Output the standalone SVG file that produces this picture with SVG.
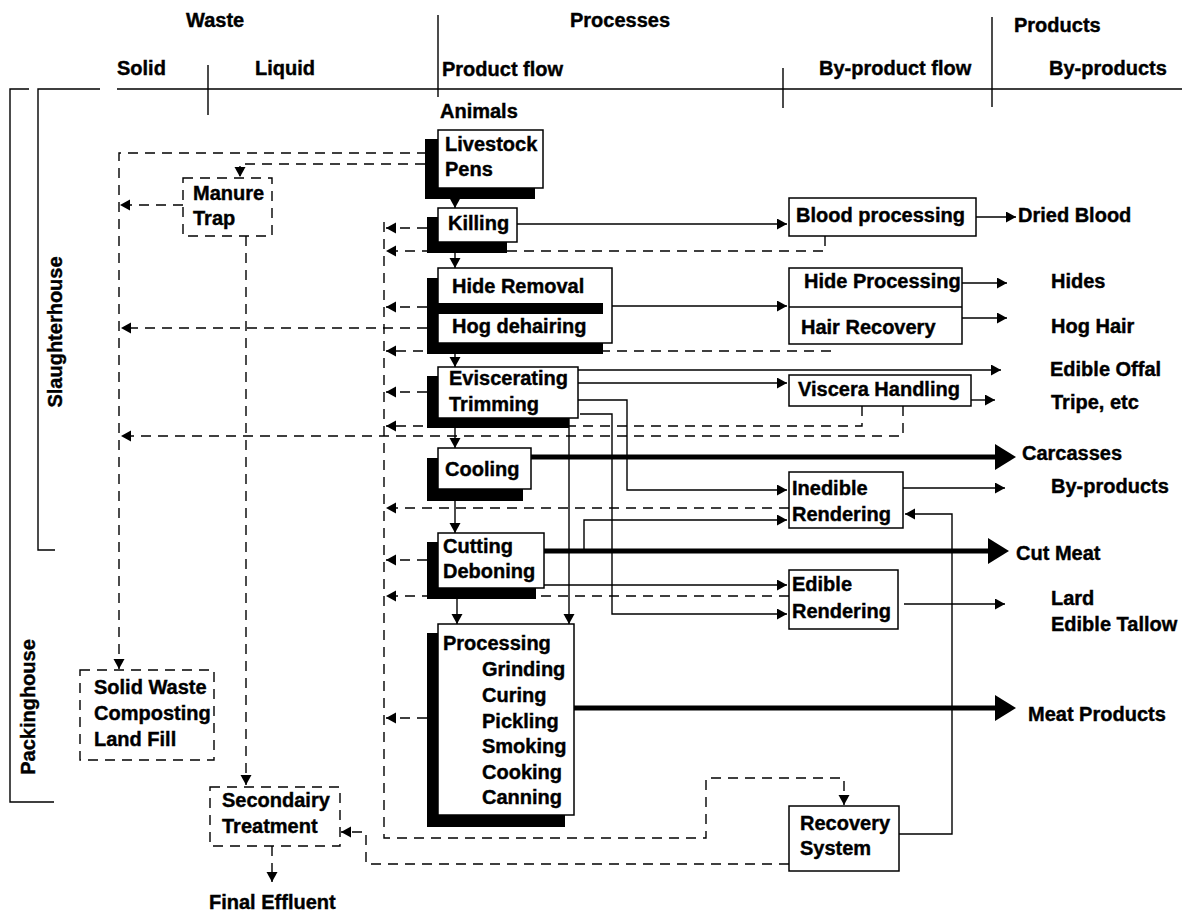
<svg xmlns="http://www.w3.org/2000/svg" width="1182" height="911" viewBox="0 0 1182 911">
<style>
.t{font-family:"Liberation Sans",Arial,sans-serif;font-weight:bold;font-size:20px;fill:#000;stroke:#000;stroke-width:0.4}
.ln{fill:none;stroke:#000;stroke-width:1.4}
.ds{fill:none;stroke:#000;stroke-width:1.4;stroke-dasharray:10 7}
.tk{fill:none;stroke:#000;stroke-width:5}
.bx{fill:#fff;stroke:#000;stroke-width:1.5}
.db{fill:#fff;stroke:#000;stroke-width:1.4;stroke-dasharray:10 7}
.sh{fill:#000}
</style>
<defs>
<marker id="a" markerUnits="userSpaceOnUse" markerWidth="12" markerHeight="12" refX="10" refY="5.5" orient="auto"><path d="M0,0 L10,5.5 L0,11 z" fill="#000" stroke="none"/></marker>
<marker id="at" markerUnits="userSpaceOnUse" markerWidth="24" markerHeight="28" refX="5" refY="13" orient="auto"><path d="M0,0 L21,13 L0,26 z" fill="#000" stroke="none"/></marker>
</defs>
<rect width="1182" height="911" fill="#fff"/>

<g id="header">
<path class="ln" d="M117,89 H1182 M29,89 H10 V802 H54 M100,89 H38 V550 H55 M438,15 V97 M992,17 V107 M783,68 V108 M208,65 V115"/>
<text class="t" x="186" y="27">Waste</text>
<text class="t" x="570" y="27">Processes</text>
<text class="t" x="1014" y="32">Products</text>
<text class="t" x="117" y="75">Solid</text>
<text class="t" x="255" y="75">Liquid</text>
<text class="t" x="442" y="76">Product flow</text>
<text class="t" x="819" y="75">By-product flow</text>
<text class="t" x="1049" y="75">By-products</text>
<text class="t" x="440" y="118">Animals</text>
<text class="t" text-anchor="middle" transform="translate(62,332) rotate(-90)">Slaughterhouse</text>
<text class="t" text-anchor="middle" transform="translate(35,707) rotate(-90)">Packinghouse</text>
</g>

<g id="connectors">
<path class="ln" marker-end="url(#a)" d="M455,199 V208"/>
<path class="ln" marker-end="url(#a)" d="M455,253 V268"/>
<path class="ln" marker-end="url(#a)" d="M455,354 V367"/>
<path class="ln" marker-end="url(#a)" d="M455,428 V448"/>
<path class="ln" marker-end="url(#a)" d="M455,501 V533"/>
<path class="ln" marker-end="url(#a)" d="M457,599 V624"/>
<path class="ln" marker-end="url(#a)" d="M569,418 V624"/>
<path class="ln" marker-end="url(#a)" d="M517,224 H787"/>
<path class="ln" marker-end="url(#a)" d="M976,217 H1016"/>
<path class="ln" marker-end="url(#a)" d="M612,306 H787"/>
<path class="ln" marker-end="url(#a)" d="M962,283 H1007"/>
<path class="ln" marker-end="url(#a)" d="M962,318 H1007"/>
<path class="ln" marker-end="url(#a)" d="M578,370 H1001"/>
<path class="ln" marker-end="url(#a)" d="M578,383 H787"/>
<path class="ln" marker-end="url(#a)" d="M971,400 H995"/>
<path class="ln" marker-end="url(#a)" d="M578,400 H627 V490 H787"/>
<path class="ln" marker-end="url(#a)" d="M580,414 H612 V614 H787"/>
<path class="ln" marker-end="url(#a)" d="M584,551 V520 H787"/>
<path class="ln" marker-end="url(#a)" d="M544,585 H787"/>
<path class="ln" marker-end="url(#a)" d="M903,488 H1005"/>
<path class="ln" marker-end="url(#a)" d="M904,604 H1005"/>
<path class="ln" marker-end="url(#a)" d="M899,834 H952 V514 H905"/>
<path class="tk" marker-end="url(#at)" d="M531,457 H1000"/>
<path class="tk" marker-end="url(#at)" d="M544,551 H993"/>
<path class="tk" marker-end="url(#at)" d="M574,708 H1000"/>
<path class="ds" marker-end="url(#a)" d="M427,153 H119 V669"/>
<path class="ds" marker-end="url(#a)" d="M425,164 H240 V177"/>
<path class="ds" marker-end="url(#a)" d="M183,205 H120"/>
<path class="ds" marker-end="url(#a)" d="M246,236 V785"/>
<path class="ds" marker-end="url(#a)" d="M272,846 V882"/>
<path class="ds" marker-end="url(#a)" d="M427,328 H121"/>
<path class="ds" marker-end="url(#a)" d="M903,406 V436 H121"/>
<path class="ds" marker-end="url(#a)" d="M384,222 V838 H706 V778 H844 V805"/>
<path class="ds" marker-end="url(#a)" d="M789,864 H366 V832 H341"/>
<path class="ds" marker-end="url(#a)" d="M427,228 H386"/>
<path class="ds" marker-end="url(#a)" d="M427,307 H386"/>
<path class="ds" marker-end="url(#a)" d="M427,392 H386"/>
<path class="ds" marker-end="url(#a)" d="M427,560 H386"/>
<path class="ds" marker-end="url(#a)" d="M427,718 H386"/>
<path class="ds" marker-end="url(#a)" d="M825,236 V251 H386"/>
<path class="ds" marker-end="url(#a)" d="M831,351 H386"/>
<path class="ds" marker-end="url(#a)" d="M862,406 V426 H386"/>
<path class="ds" marker-end="url(#a)" d="M789,508 H386"/>
<path class="ds" marker-end="url(#a)" d="M789,596 H386"/>
</g>

<g id="livestock">
<rect class="sh" x="425" y="139" width="110" height="60"/>
<rect class="bx" x="438" y="130" width="105" height="58" stroke-width="3"/>
<text class="t" x="445" y="151">Livestock</text>
<text class="t" x="445" y="176">Pens</text>
</g>
<g id="killing">
<rect class="sh" x="427" y="217" width="80" height="36"/>
<rect class="bx" x="438" y="208" width="79" height="34"/>
<text class="t" x="448" y="230">Killing</text>
</g>
<g id="hide">
<rect class="sh" x="427" y="278" width="176" height="76"/>
<rect class="bx" x="438" y="268" width="174" height="75"/>
<rect class="sh" x="438" y="303" width="165" height="11"/>
<text class="t" x="452" y="293">Hide Removal</text>
<text class="t" x="452" y="333">Hog dehairing</text>
</g>
<g id="eviscerating">
<rect class="sh" x="427" y="376" width="142" height="52"/>
<rect class="bx" x="438" y="367" width="140" height="51"/>
<text class="t" x="449" y="385">Eviscerating</text>
<text class="t" x="449" y="411">Trimming</text>
</g>
<g id="cooling">
<rect class="sh" x="427" y="458" width="96" height="43"/>
<rect class="bx" x="438" y="448" width="93" height="41"/>
<text class="t" x="445" y="476">Cooling</text>
</g>
<g id="cutting">
<rect class="sh" x="427" y="542" width="109" height="57"/>
<rect class="bx" x="438" y="533" width="106" height="55"/>
<text class="t" x="443" y="553">Cutting</text>
<text class="t" x="443" y="578">Deboning</text>
</g>
<g id="processing">
<rect class="sh" x="427" y="633" width="138" height="194"/>
<rect class="bx" x="438" y="624" width="136" height="191"/>
<text class="t" x="443" y="650">Processing</text>
<text class="t" x="482" y="676">Grinding</text>
<text class="t" x="482" y="702">Curing</text>
<text class="t" x="482" y="728">Pickling</text>
<text class="t" x="482" y="753">Smoking</text>
<text class="t" x="482" y="779">Cooking</text>
<text class="t" x="482" y="804">Canning</text>
</g>
<g id="blood">
<rect class="bx" x="789" y="198" width="187" height="38"/>
<text class="t" x="796" y="222">Blood processing</text>
</g>
<g id="hideproc">
<rect class="bx" x="789" y="268" width="173" height="76"/>
<path class="ln" d="M789,307 H962"/>
<text class="t" x="804" y="288">Hide Processing</text>
<text class="t" x="801" y="334">Hair Recovery</text>
</g>
<g id="viscera">
<rect class="bx" x="789" y="375" width="182" height="31"/>
<text class="t" x="798" y="396">Viscera Handling</text>
</g>
<g id="inedible">
<rect class="bx" x="789" y="472" width="114" height="56"/>
<text class="t" x="792" y="495">Inedible</text>
<text class="t" x="792" y="521">Rendering</text>
</g>
<g id="edible">
<rect class="bx" x="789" y="570" width="109" height="59"/>
<text class="t" x="792" y="591">Edible</text>
<text class="t" x="792" y="618">Rendering</text>
</g>
<g id="recovery">
<rect class="bx" x="789" y="806" width="110" height="65"/>
<text class="t" x="800" y="830">Recovery</text>
<text class="t" x="800" y="855">System</text>
</g>
<g id="manure">
<rect class="db" x="183" y="178" width="89" height="58"/>
<text class="t" x="193" y="200">Manure</text>
<text class="t" x="193" y="225">Trap</text>
</g>
<g id="solidwaste">
<rect class="db" x="80" y="670" width="134" height="90"/>
<text class="t" x="94" y="694">Solid Waste</text>
<text class="t" x="94" y="720">Composting</text>
<text class="t" x="94" y="746">Land Fill</text>
</g>
<g id="secondary">
<rect class="db" x="210" y="787" width="130" height="59"/>
<text class="t" x="222" y="807">Secondairy</text>
<text class="t" x="222" y="833">Treatment</text>
</g>
<g id="products">
<text class="t" x="1018" y="222">Dried Blood</text>
<text class="t" x="1051" y="288">Hides</text>
<text class="t" x="1051" y="333">Hog Hair</text>
<text class="t" x="1050" y="376">Edible Offal</text>
<text class="t" x="1051" y="409">Tripe, etc</text>
<text class="t" x="1022" y="460">Carcasses</text>
<text class="t" x="1051" y="493">By-products</text>
<text class="t" x="1016" y="560">Cut Meat</text>
<text class="t" x="1051" y="605">Lard</text>
<text class="t" x="1051" y="631">Edible Tallow</text>
<text class="t" x="1028" y="721">Meat Products</text>
<text class="t" x="209" y="909">Final Effluent</text>
</g>
</svg>
